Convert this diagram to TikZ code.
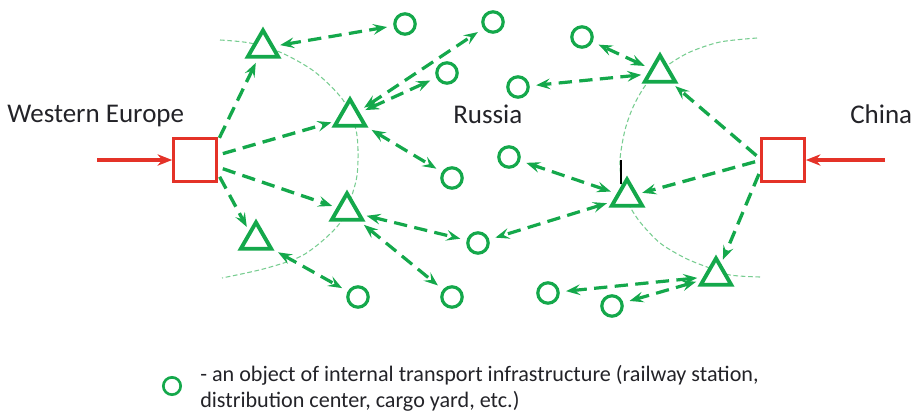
\documentclass[tikz,border=0pt]{standalone}
\usepackage{fontspec}
\setmainfont{Carlito}
\usetikzlibrary{arrows.meta,shapes.geometric}
\definecolor{grn}{RGB}{20,168,75}
\definecolor{lgrn}{RGB}{120,205,145}
\definecolor{rd}{RGB}{228,50,40}
\definecolor{txt}{RGB}{35,35,40}
\begin{document}
\begin{tikzpicture}[x=0.75pt,y=-0.75pt,
  tri/.style={regular polygon,regular polygon sides=3,draw=grn,line width=2.9pt,fill=white,minimum size=26.4pt,inner sep=0pt,outer sep=0pt},
  obj/.style={circle,draw=grn,line width=2.4pt,fill=white,minimum size=15.3pt,inner sep=0pt,outer sep=0pt},
  legobj/.style={circle,draw=grn,line width=2pt,fill=white,minimum size=13pt,inner sep=0pt,outer sep=0pt},
  gate/.style={rectangle,draw=rd,line width=2.5pt,fill=white,minimum size=32.2pt,inner sep=0pt,outer sep=0pt},
  link/.style={draw=grn,line width=2.4pt,dash pattern=on 10pt off 5.5pt,{Stealth[length=10.5pt,width=8pt,inset=4pt]}-{Stealth[length=10.5pt,width=8pt,inset=4pt]},shorten <=6pt,shorten >=6pt},
  feed/.style={draw=grn,line width=2.5pt,dash pattern=on 10pt off 5.5pt,-{Stealth[length=10.5pt,width=8pt,inset=4pt]},shorten <=5pt,shorten >=5pt},
  inflow/.style={draw=rd,line width=2.5pt,-{Stealth[length=11pt,width=8.5pt,inset=3.5pt]},shorten >=1pt},
  region/.style={draw=lgrn,line width=0.8pt,dash pattern=on 3.5pt off 2pt},
  lbl/.style={text=txt,font=\fontsize{20.25}{24}\selectfont,inner sep=0pt,anchor=base west},
  leg/.style={text=txt,font=\fontsize{16.6}{20}\selectfont,inner sep=0pt,anchor=base west}]
\useasboundingbox (0,0) rectangle (921,415);

% region boundaries
\draw[region] plot[smooth] coordinates {(220,40) (250,43) (282,53) (315,72) (343,100) (356,130) (358,160) (355,185) (340,223) (305,254) (267,268) (222,278)};
\draw[region] plot[smooth] coordinates {(757,38) (720,42) (690,52) (668,65) (648,82) (634,105) (625,130) (620,160) (622,185) (628,203) (640,222) (660,243) (685,258) (707,267) (730,275) (760,277)};
\coordinate (tickA) at (621,160);
\coordinate (tickB) at (621,184);
\draw[black,line width=0.8pt] (tickA) -- (tickB);

% gateways
\node[gate] (LS) at (195,160) {};
\node[gate] (RS) at (783,160) {};

% terminals
\node[tri] (T1) at (263,48) {};
\node[tri] (T2) at (350,117) {};
\node[tri] (T3) at (347,211) {};
\node[tri] (T4) at (256,240) {};
\node[tri] (T5) at (660,73) {};
\node[tri] (T6) at (627,197) {};
\node[tri] (T7) at (716,276) {};

% internal objects
\node[obj] (C1) at (405,24) {};
\node[obj] (C2) at (493,22) {};
\node[obj] (C3) at (447,73) {};
\node[obj] (C4) at (518,87) {};
\node[obj] (C5) at (582,37) {};
\node[obj] (C6) at (452,178) {};
\node[obj] (C7) at (509,157) {};
\node[obj] (C8) at (478,243) {};
\node[obj] (C9) at (358,297) {};
\node[obj] (C10) at (452,297) {};
\node[obj] (C11) at (548,293) {};
\node[obj] (C12) at (612,306) {};

% labels
\node[lbl] (we) at (7,122) {Western Europe};
\node[lbl] (ru) at (453,123) {Russia};
\node[lbl] (cn) at (850,123) {China};

% inflows
\coordinate (wsrc) at (97,160);
\coordinate (esrc) at (885,160);
\draw[inflow] (wsrc) -- (LS.west);
\draw[inflow] (esrc) -- (RS.east);

% feeds from gateways
\draw[feed] (LS.37) -- (T1);
\draw[feed] (LS.12) -- (T2);
\draw[feed] (LS.-17) -- (T3);
\draw[feed] (LS.-27) -- (T4.130);
\draw[feed] (RS.west) -- (T5);
\draw[feed] (RS.west) -- (T6);
\draw[feed] (RS.200) -- (T7);

% links
\draw[link] (T1) -- (C1);
\draw[link] (T2) -- (C2);
\draw[link] (T2) -- (C3);
\draw[link] (T2) -- (C6);
\draw[link] (T3) -- (C8);
\draw[link] (T3) -- (C10);
\draw[link] (T4) -- (C9);
\draw[link] (T5) -- (C5);
\draw[link] (T5) -- (C4);
\draw[link] (T6) -- (C7);
\draw[link] (T6) -- (C8);
\draw[link] (T7) -- (C11);
\draw[link] (T7) -- (C12);

% legend
\node[legobj] (L0) at (172,386) {};
\node[leg] (l1) at (200,381) {- an object of internal transport infrastructure (railway station,};
\node[leg] (l2) at (200,407) {distribution center, cargo yard, etc.)};
\end{tikzpicture}
\end{document}
